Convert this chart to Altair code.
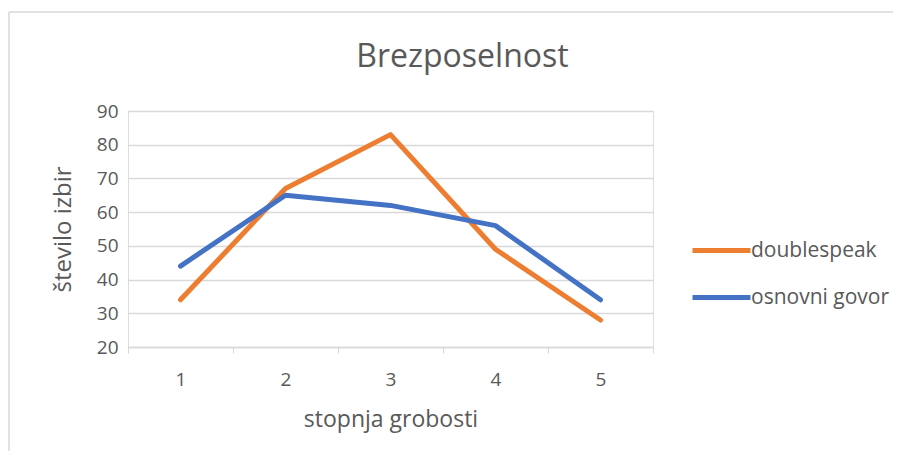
import altair as alt
import pandas as pd

categories = [1, 2, 3, 4, 5]
doublespeak = [34, 67, 83, 49, 28]
osnovni_govor = [44, 65, 62, 56, 34]
series_names = ["doublespeak", "osnovni govor"]
colors = ["#ED7D31", "#4472C4"]
y_ticks = [20, 30, 40, 50, 60, 70, 80, 90]
x_ticks = [0.5, 1, 1.5, 2, 2.5, 3, 3.5, 4, 4.5, 5, 5.5]

rows = []
for name, vals in zip(series_names, [doublespeak, osnovni_govor]):
    for c, v in zip(categories, vals):
        rows.append({"stopnja": c, "vrednost": v, "serija": name})
df = pd.DataFrame(rows)

FONT = "Open Sans"
GRAY = "#595959"
GRID = "#d9d9d9"

lines = alt.Chart(df).mark_line(strokeWidth=5, strokeCap="round", strokeJoin="round").encode(
    x=alt.X(
        "stopnja:Q",
        scale=alt.Scale(domain=[0.5, 5.5], nice=False, zero=False),
        axis=alt.Axis(
            values=x_ticks,
            title="stopnja grobosti",
            grid=False,
            labelExpr="datum.value % 1 == 0 ? format(datum.value, 'd') : ''",
            tickOpacity={"condition": {"test": "datum.value % 1 == 0", "value": 0}, "value": 1},
            tickColor=GRID,
            tickSize=6,
            domainColor=GRID,
            domainWidth=1.5,
            labelFontSize=19,
            labelColor=GRAY,
            labelFont=FONT,
            labelPadding=17,
            titleFontSize=23,
            titleFont=FONT,
            titleColor=GRAY,
            titleFontWeight="normal",
            titlePadding=19,
        ),
    ),
    y=alt.Y(
        "vrednost:Q",
        scale=alt.Scale(domain=[20, 90], nice=False, zero=False),
        axis=alt.Axis(
            values=y_ticks,
            title="število izbir",
            grid=True,
            gridColor=GRID,
            gridWidth=1.5,
            domain=False,
            ticks=False,
            labelFontSize=19,
            labelColor=GRAY,
            labelFont=FONT,
            labelPadding=10,
            titleFontSize=24,
            titleFont=FONT,
            titleColor=GRAY,
            titleFontWeight="normal",
            titlePadding=21,
        ),
    ),
    color=alt.Color(
        "serija:N",
        scale=alt.Scale(domain=series_names, range=colors),
        legend=alt.Legend(
            title=None,
            orient="none",
            legendX=562,
            legendY=108,
            symbolType="stroke",
            symbolSize=3364,
            symbolStrokeWidth=5,
            labelFontSize=21,
            labelFont=FONT,
            labelColor=GRAY,
            labelOffset={"expr": "-2"},
            rowPadding=5,
        ),
    ),
)

frame_data = alt.Data(values=[{"k": 0}])
top_border = alt.Chart(frame_data).mark_rule(color=GRID, strokeWidth=1.5).encode(
    x=alt.value(-119), x2=alt.value(900), y=alt.value(-99)
)
left_border = alt.Chart(frame_data).mark_rule(color=GRID, strokeWidth=1.5).encode(
    x=alt.value(-119), y=alt.value(-99), y2=alt.value(400)
)

chart = alt.layer(top_border, left_border, lines).properties(
    width=525,
    height=236,
    padding={"left": 120, "top": 103, "right": 240, "bottom": 104},
    autosize=alt.AutoSizeParams(type="none"),
    title=alt.TitleParams(
        "Brezposelnost",
        fontSize=32,
        font=FONT,
        color=GRAY,
        fontWeight="normal",
        anchor="middle",
        dx=72,
        offset=-88,
        baseline="alphabetic",
    ),
).configure_view(stroke=None).configure(background="white")

chart.save("out.html", embed_options={"renderer": "svg", "actions": False})
